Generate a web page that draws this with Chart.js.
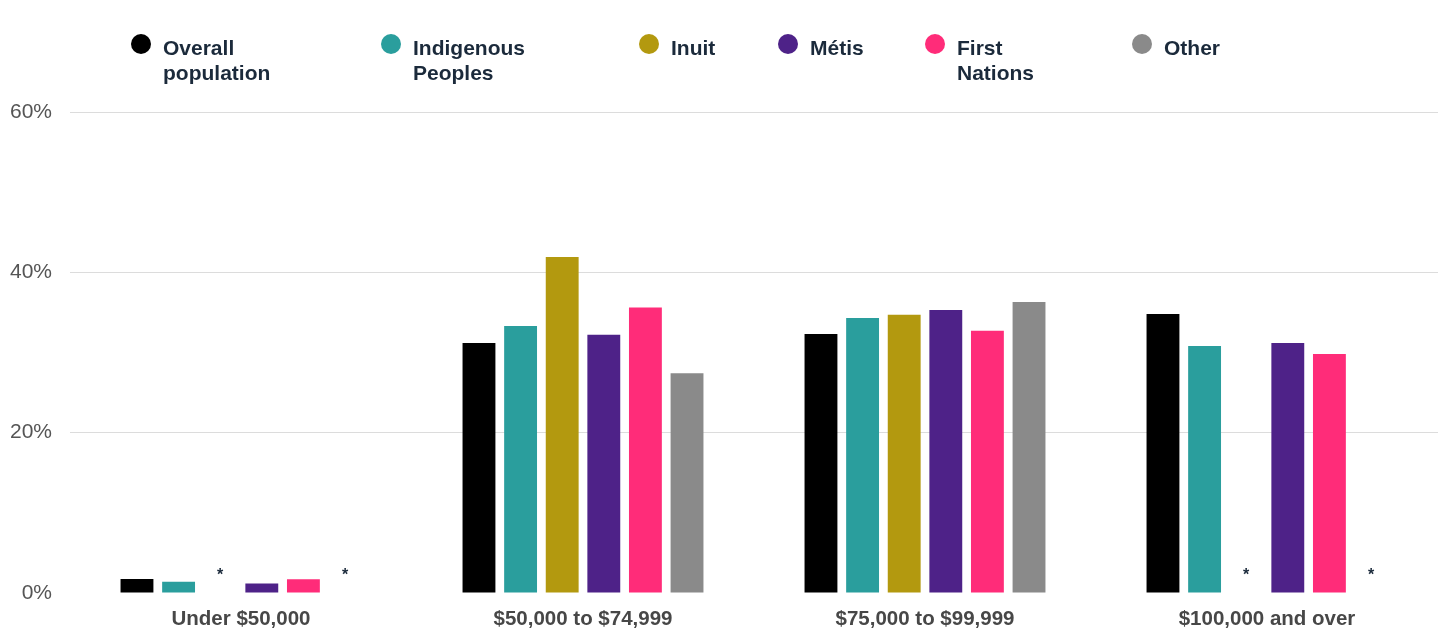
<!DOCTYPE html>
<html>
<head>
<meta charset="utf-8">
<script src="https://cdn.jsdelivr.net/npm/chart.js@4/dist/chart.umd.min.js"></script>
<style>
  html, body { margin: 0; padding: 0; background: #ffffff; }
  #wrap { position: relative; width: 1448px; height: 632px; overflow: hidden; }
  #chart { position: absolute; left: 0; top: 0; }
  .lg { position: absolute; top: 0; font-family: "Liberation Sans", Arial, sans-serif; font-weight: bold;
        font-size: 21px; line-height: 25px; color: #1b2a3b; }
  .lg .dot { position: absolute; width: 20px; height: 20px; border-radius: 50%; left: 0; top: 34px; }
  .lg .txt { position: absolute; left: 32px; top: 35px; white-space: nowrap; }
</style>
</head>
<body>
<div id="wrap">
  <canvas id="chart" width="1448" height="632"></canvas>
  <div id="legend"></div>
</div>
<script>
// Household income brackets
const categories = ["Under $50,000", "$50,000 to $74,999", "$75,000 to $99,999", "$100,000 and over"];

// Share of each population group per bracket (%); null = suppressed (*)
const overallPopulation  = [1.75, 31.2, 32.3, 34.8];
const indigenousPeoples  = [1.4, 33.3, 34.3, 30.8];
const inuit              = [null, 41.9, 34.7, null];
const metis              = [1.2, 32.2, 35.3, 31.2];
const firstNations       = [1.7, 35.6, 32.7, 29.8];
const other              = [null, 27.4, 36.3, null];

const seriesNames = [["Overall", "population"], ["Indigenous", "Peoples"], ["Inuit"], ["Métis"], ["First", "Nations"], ["Other"]];
const seriesValues = [overallPopulation, indigenousPeoples, inuit, metis, firstNations, other];
const seriesColors = ["#000000", "#2a9e9d", "#b3990f", "#4e2288", "#ff2c79", "#8a8a8a"];

const yTicks = [0, 20, 40, 60];

// legend placement (left edge of each marker)
const legendLeft = [131, 381, 639, 778, 925, 1132];

const FONT = '"Liberation Sans", Arial, sans-serif';

// HTML legend with two-line labels
const legendEl = document.getElementById('legend');
seriesNames.forEach((lines, i) => {
  const item = document.createElement('div');
  item.className = 'lg';
  item.style.left = legendLeft[i] + 'px';
  const dot = document.createElement('div');
  dot.className = 'dot';
  dot.style.background = seriesColors[i];
  const txt = document.createElement('div');
  txt.className = 'txt';
  txt.innerHTML = lines.join('<br>');
  item.appendChild(dot);
  item.appendChild(txt);
  legendEl.appendChild(item);
});

// Mark suppressed values with an asterisk above the baseline
const suppressedMarker = {
  id: 'suppressedMarker',
  afterDatasetsDraw(chart) {
    const ctx = chart.ctx;
    const y0 = chart.scales.y.getPixelForValue(0);
    ctx.save();
    ctx.fillStyle = '#1b2a3b';
    ctx.font = 'bold 16px ' + FONT;
    ctx.textAlign = 'center';
    ctx.textBaseline = 'alphabetic';
    chart.data.datasets.forEach((ds, di) => {
      const meta = chart.getDatasetMeta(di);
      ds.data.forEach((v, i) => {
        if (v === null) {
          const el = meta.data[i];
          ctx.fillText('*', el.x, y0 - 13);
        }
      });
    });
    ctx.restore();
  }
};

new Chart(document.getElementById('chart'), {
  type: 'bar',
  data: {
    labels: categories,
    datasets: seriesValues.map((vals, i) => ({
      label: seriesNames[i].join(' '),
      data: vals,
      backgroundColor: seriesColors[i],
      borderWidth: 0,
      categoryPercentage: 0.73,
      barPercentage: 0.79
    }))
  },
  options: {
    responsive: false,
    animation: false,
    layout: { padding: { top: 112, right: 10, left: 0, bottom: 0 } },
    plugins: { legend: { display: false }, tooltip: { enabled: false } },
    scales: {
      x: {
        grid: { display: false, drawTicks: false },
        border: { display: false },
        ticks: {
          padding: 14,
          color: '#474747',
          font: { family: FONT, size: 20.5, weight: 'bold' }
        },
        afterFit(scale) { scale.height = 39; }
      },
      y: {
        min: 0,
        max: 60,
        afterBuildTicks(scale) { scale.ticks = yTicks.map(v => ({ value: v })); },
        grid: {
          drawTicks: false,
          color: (c) => c.tick && c.tick.value === 0 ? 'rgba(0,0,0,0)' : '#dcdcdc',
          lineWidth: 1
        },
        border: { display: false },
        ticks: {
          padding: 18,
          color: '#555555',
          font: { family: FONT, size: 21 },
          callback: (v) => v + '%'
        },
        afterFit(scale) { scale.width = 70; }
      }
    }
  },
  plugins: [suppressedMarker]
});
</script>
</body>
</html>
